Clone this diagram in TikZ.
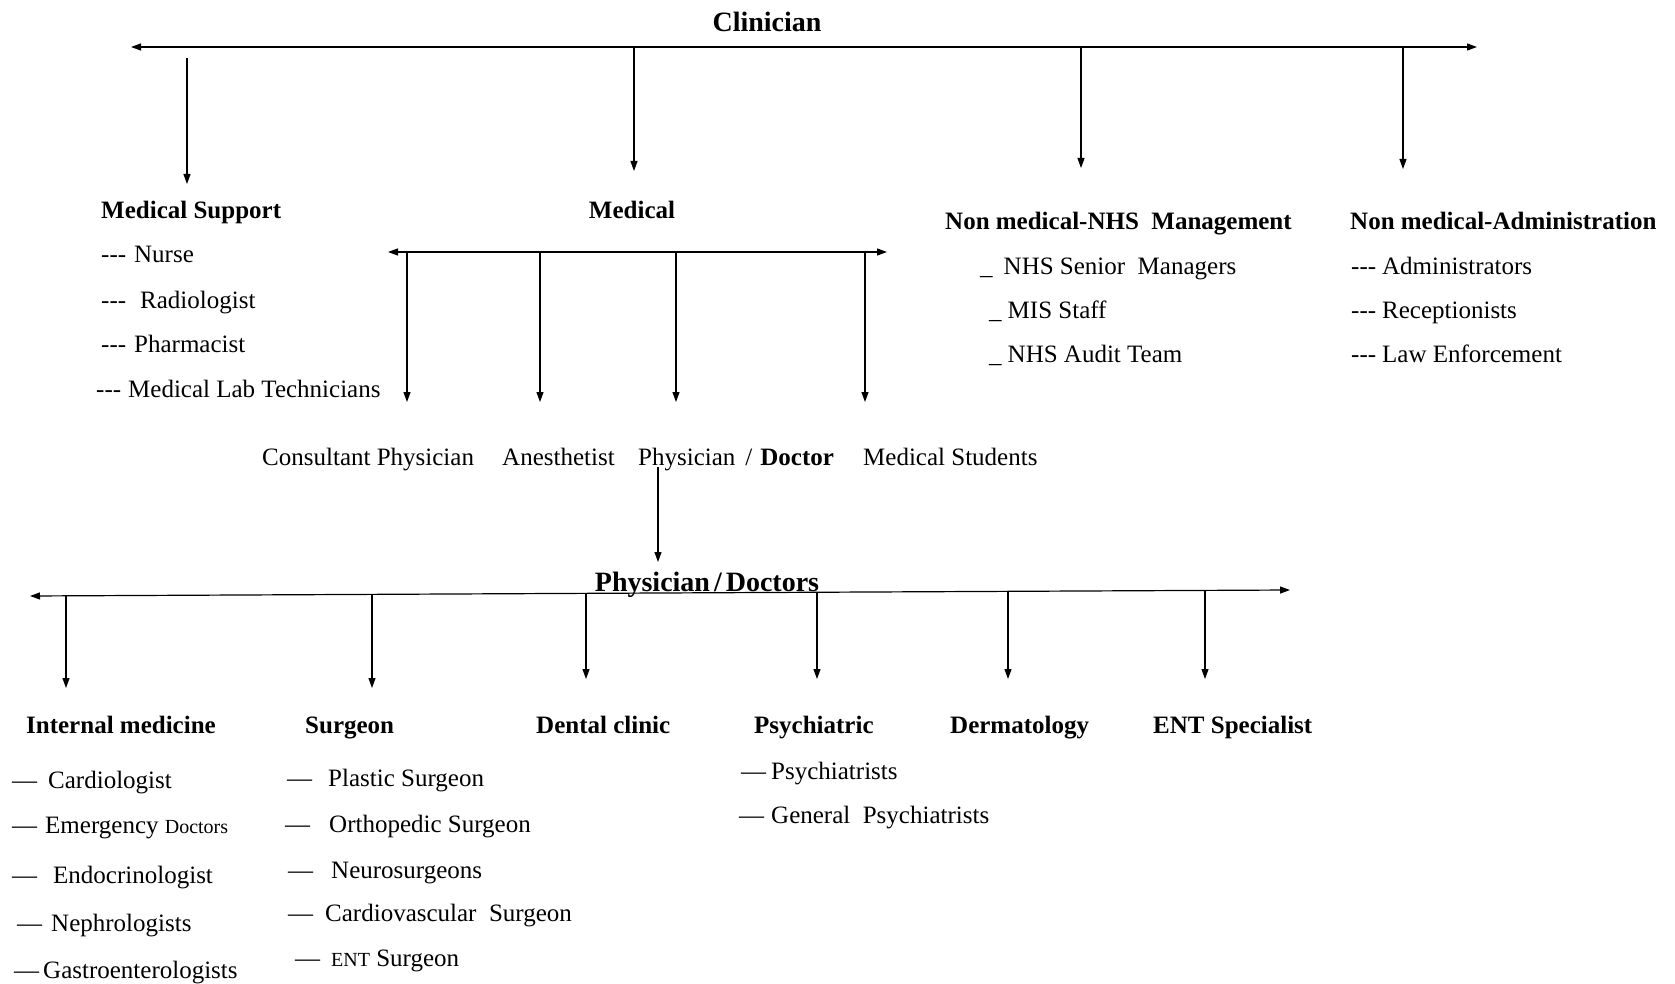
\documentclass[tikz,border=0pt]{standalone}
\usepackage{fontspec}
\setmainfont{Liberation Serif}
\usetikzlibrary{arrows.meta}
% three separate hyphens (no em-dash ligature)
\newcommand\threehyph{-\kern0pt-\kern0pt-}
\begin{document}
\begin{tikzpicture}[x=1pt,y=-1pt,
  lbl/.style={inner sep=0pt, text height=16.5pt, text depth=0pt, font=\fontsize{25}{30}\selectfont},
  item/.style={lbl, anchor=west},
  head/.style={inner sep=0pt, text height=17pt, text depth=0pt, font=\fontsize{25}{30}\selectfont\bfseries},
  big/.style={inner sep=0pt, text height=19pt, text depth=0pt, font=\fontsize{28}{32}\selectfont\bfseries},
  bar/.style={line width=1.2pt, {Triangle[length=10pt,width=7pt]}-{Triangle[length=10pt,width=7pt]}},
  drop/.style={line width=1.1pt, -{Triangle[length=10pt,width=7pt]}},
]
\useasboundingbox (0,0) rectangle (1675,984);

% ---------- top level ----------
\node[big] (clin) at (767,22) {Clinician};
\coordinate (cL) at (131,47);
\coordinate (cR) at (1477,47);
\draw[bar] (cL) -- (cR);

\coordinate (b1) at (187,58);   \coordinate (e1) at (187,184);
\coordinate (b2) at (634,47);   \coordinate (e2) at (634,171);
\coordinate (b3) at (1081,47);  \coordinate (e3) at (1081,168);
\coordinate (b4) at (1403,47);  \coordinate (e4) at (1403,169);
\draw[drop] (b1) -- (e1);
\draw[drop] (b2) -- (e2);
\draw[drop] (b3) -- (e3);
\draw[drop] (b4) -- (e4);

% ---------- Medical Support ----------
\node[head, anchor=west] (msup) at (101,210) {Medical Support};
\node[item] (nurse) at (101,254) {\threehyph\hspace{8pt}Nurse};
\node[item] (radio) at (101,300) {\threehyph\hspace{14pt}Radiologist};
\node[item] (pharm) at (101,344) {\threehyph\hspace{8pt}Pharmacist};
\node[item] (mlab)  at (96,389)  {\threehyph\hspace{7pt}Medical Lab Technicians};

% ---------- Medical ----------
\node[head] (med) at (632,210) {Medical};
\coordinate (mL) at (388,252);
\coordinate (mR) at (887,252);
\draw[bar] (mL) -- (mR);
\coordinate (m1) at (407,252);  \coordinate (n1) at (407,402);
\coordinate (m2) at (540,252);  \coordinate (n2) at (540,402);
\coordinate (m3) at (676,252);  \coordinate (n3) at (676,402);
\coordinate (m4) at (865,252);  \coordinate (n4) at (865,402);
\draw[drop] (m1) -- (n1);
\draw[drop] (m2) -- (n2);
\draw[drop] (m3) -- (n3);
\draw[drop] (m4) -- (n4);

\node[item] (cons) at (262,457) {Consultant Physician};
\node[item] (anes) at (502,457) {Anesthetist};
\node[item] (phys) at (638,457) {Physician\hspace{10pt}/\hspace{8pt}\textbf{Doctor}};
\node[item] (stud) at (863,457) {Medical Students};

% ---------- Non medical ----------
\node[head, anchor=west] (nhs) at (945,221) {Non medical-NHS\ \ Management};
\node[item] (nhs1) at (980,266) {\_\hspace{11pt}NHS Senior\ \ Managers};
\node[item] (nhs2) at (989,310) {\_\hspace{6pt}MIS Staff};
\node[item] (nhs3) at (989,354) {\_\hspace{6pt}NHS Audit Team};

\node[head, anchor=west] (adm) at (1350,221) {Non medical-Administration};
\node[item] (adm1) at (1351,266) {\threehyph\hspace{6pt}Administrators};
\node[item] (adm2) at (1351,310) {\threehyph\hspace{6pt}Receptionists};
\node[item] (adm3) at (1351,354) {\threehyph\hspace{6pt}Law Enforcement};

% ---------- Physician / Doctors ----------
\coordinate (pa) at (658,467);
\coordinate (pb) at (658,562);
\draw[drop] (pa) -- (pb);

\coordinate (pL) at (30,596);
\coordinate (pR) at (1290,590);
\draw[bar] (pL) -- (pR);
\node[big] (pdoc) at (707,582) {Physician\hspace{4pt}/\hspace{4pt}Doctors};

\coordinate (q1) at (66,595.8);   \coordinate (r1) at (66,688);
\coordinate (q2) at (372,594.4);  \coordinate (r2) at (372,688);
\coordinate (q3) at (586,593.4);  \coordinate (r3) at (586,679);
\coordinate (q4) at (817,592.3);  \coordinate (r4) at (817,679);
\coordinate (q5) at (1008,591.3); \coordinate (r5) at (1008,679);
\coordinate (q6) at (1205,590.4); \coordinate (r6) at (1205,679);
\draw[drop] (q1) -- (r1);
\draw[drop] (q2) -- (r2);
\draw[drop] (q3) -- (r3);
\draw[drop] (q4) -- (r4);
\draw[drop] (q5) -- (r5);
\draw[drop] (q6) -- (r6);

\node[head, anchor=west] (intm) at (26,725)   {Internal medicine};
\node[head, anchor=west] (surg) at (305,725)  {Surgeon};
\node[head, anchor=west] (dent) at (536,725)  {Dental clinic};
\node[head, anchor=west] (psyc) at (754,725)  {Psychiatric};
\node[head, anchor=west] (derm) at (950,725)  {Dermatology};
\node[head, anchor=west] (ents) at (1153,725) {ENT Specialist};

% internal medicine
\node[item] (i1) at (12,780) {—\hspace{11pt}Cardiologist};
\node[item] (i2) at (12,825) {—\hspace{8pt}Emergency {\fontsize{20}{24}\selectfont Doctors}};
\node[item] (i3) at (12,875) {—\hspace{16pt}Endocrinologist};
\node[item] (i4) at (17,923) {—\hspace{9pt}Nephrologists};
\node[item] (i5) at (14,970) {—\hspace{4pt}Gastroenterologists};

% surgeon
\node[item] (s1) at (287,778) {—\hspace{16pt}Plastic Surgeon};
\node[item] (s2) at (285,824) {—\hspace{19pt}Orthopedic Surgeon};
\node[item] (s3) at (288,870) {—\hspace{18pt}Neurosurgeons};
\node[item] (s4) at (288,913) {—\hspace{12pt}Cardiovascular\ \ Surgeon};
\node[item] (s5) at (295,958) {—\hspace{11pt}{\fontsize{20}{24}\selectfont ENT} Surgeon};

% psychiatric
\node[item] (p1) at (741,771) {—\hspace{5pt}Psychiatrists};
\node[item] (p2) at (739,815) {—\hspace{7pt}General\ \ Psychiatrists};
\end{tikzpicture}
\end{document}
